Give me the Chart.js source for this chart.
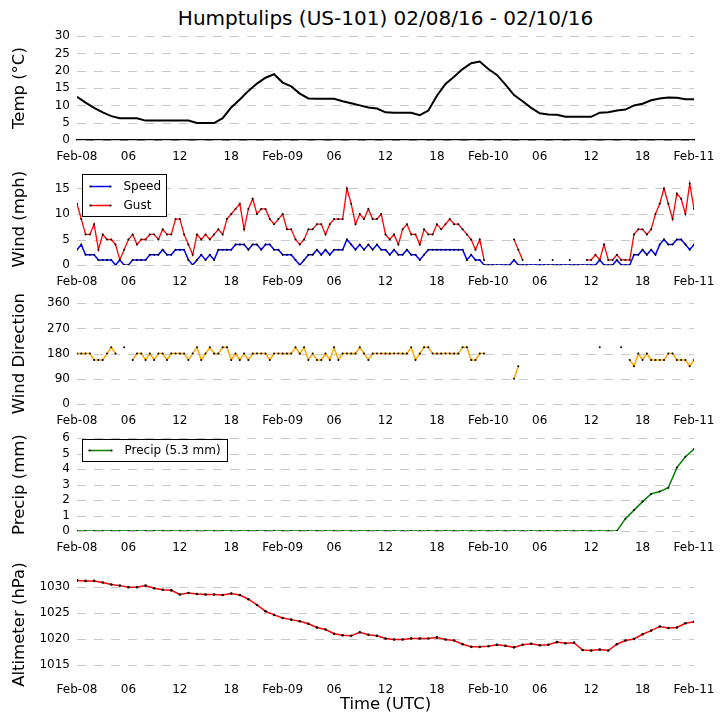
<!DOCTYPE html>
<html><head><meta charset="utf-8">
<script src="https://cdn.jsdelivr.net/npm/chart.js@4.4.1/dist/chart.umd.min.js"></script>
<style>
html,body{margin:0;padding:0;background:#fff;}
#wrap{position:relative;width:726px;height:725px;overflow:hidden;font-family:"DejaVu Sans",sans-serif;background:#fff;}
#title{position:absolute;left:77px;width:617px;top:5px;text-align:center;font-size:20px;line-height:26px;color:#000;white-space:nowrap;}
canvas{position:absolute;left:0;}
</style></head><body>
<div id="wrap">
<div id="title">Humptulips (US-101) 02/08/16 - 02/10/16</div>
<canvas id="cTemp"></canvas>
<canvas id="cWind"></canvas>
<canvas id="cDir"></canvas>
<canvas id="cPrecip"></canvas>
<canvas id="cAlt"></canvas>
</div>
<script>
// x tick labels, every 6 hours from Feb-08 00 UTC
const X_TICK_LABELS = ['Feb-08','06','12','18','Feb-09','06','12','18','Feb-10','06','12','18','Feb-11'];

// hourly temperature (deg C), Feb-08 00 UTC .. Feb-11 00 UTC
const TEMP = [12.5,10.8,9.3,8.0,6.9,6.3,6.3,6.3,5.6,5.6,
  5.6,5.6,5.6,5.6,4.9,4.9,4.9,6.3,9.4,11.7,
  14.2,16.3,18.0,19.0,16.6,15.5,13.4,12.0,11.9,11.9,
  11.9,11.2,10.6,10.0,9.4,9.1,8.0,7.9,7.9,7.9,
  7.2,8.5,12.8,16.2,18.3,20.5,22.2,22.7,20.5,18.8,
  16.0,13.0,11.2,9.3,7.7,7.4,7.3,6.7,6.7,6.7,
  6.7,7.9,8.0,8.5,8.8,10.0,10.5,11.5,12.0,12.3,
  12.2,11.8,11.8];

// half-hourly wind speed (mph)
const WIND_SPEED = [3,4,2,2,2,1,1,1,1,0,
  1,0,0,1,1,1,1,2,2,2,
  3,2,2,3,3,3,1,0,1,2,
  1,2,1,3,3,3,3,4,4,4,
  3,4,4,3,4,4,3,3,2,2,
  2,1,0,1,2,2,3,2,3,2,
  3,3,3,5,4,3,4,3,4,3,
  4,3,3,2,3,2,2,3,2,2,
  1,2,3,3,3,3,3,3,3,3,
  3,1,2,1,1,0,0,0,0,0,
  0,0,1,0,0,0,0,0,0,0,
  0,0,0,0,0,0,0,0,0,0,
  0,0,1,0,0,0,1,0,0,0,
  2,2,3,2,3,2,4,5,4,4,
  5,5,4,3,4];

// half-hourly wind gust (mph), null = missing
const WIND_GUST = [12,9,6,6,8,3,6,5,5,4,
  1,3,5,6,4,5,5,6,6,5,
  7,6,6,9,9,6,4,2,6,5,
  6,5,6,7,6,9,10,11,12,7,
  11,13,10,11,11,9,8,9,10,7,
  7,5,4,5,7,7,8,8,6,8,
  9,9,9,15,12,8,10,9,11,9,
  9,10,6,5,6,4,7,8,6,6,
  4,7,6,6,8,7,8,9,8,8,
  7,6,5,3,5,1,null,null,null,null,
  null,null,5,3,1,null,null,null,1,null,
  null,1,null,null,null,1,null,null,null,1,
  1,2,1,4,1,1,2,1,1,1,
  6,7,7,6,7,10,12,15,12,9,
  14,13,10,16,11];

// half-hourly wind direction (deg), null = missing
const WIND_DIR = [180,180,180,180,157.5,157.5,157.5,180,202.5,180,
  null,202.5,null,157.5,180,180,157.5,180,157.5,180,
  180,157.5,180,180,180,180,157.5,180,202.5,157.5,
  180,202.5,180,180,202.5,202.5,157.5,180,157.5,180,
  157.5,180,180,180,180,157.5,180,180,180,180,
  180,202.5,180,202.5,157.5,180,157.5,157.5,180,157.5,
  202.5,157.5,180,180,180,180,202.5,180,157.5,180,
  180,180,180,180,180,180,180,180,202.5,157.5,
  180,202.5,202.5,180,180,180,180,180,180,180,
  202.5,202.5,157.5,157.5,180,180,null,null,null,null,
  null,null,90,135,null,null,null,null,null,null,
  null,null,null,null,null,null,null,null,null,null,
  null,null,202.5,null,null,null,null,202.5,null,157.5,
  135,180,157.5,180,157.5,157.5,157.5,157.5,180,180,
  157.5,157.5,157.5,135,157.5];

// hourly accumulated precipitation (mm)
const PRECIP = [0,0,0,0,0,0,0,0,0,0,
  0,0,0,0,0,0,0,0,0,0,
  0,0,0,0,0,0,0,0,0,0,
  0,0,0,0,0,0,0,0,0,0,
  0,0,0,0,0,0,0,0,0,0,
  0,0,0,0,0,0,0,0,0,0,
  0,0,0,0,0.8,1.35,1.9,2.4,2.55,2.8,
  4.1,4.8,5.3];

// hourly altimeter (hPa)
const ALTIM = [1031.2,1031.1,1031.1,1030.8,1030.4,1030.2,1029.9,1029.9,1030.2,1029.7,
  1029.4,1029.3,1028.5,1028.8,1028.6,1028.5,1028.5,1028.4,1028.7,1028.4,
  1027.6,1026.5,1025.3,1024.6,1024.0,1023.7,1023.4,1022.9,1022.2,1021.8,
  1021.0,1020.7,1020.6,1021.3,1020.8,1020.6,1020.1,1019.9,1019.9,1020.1,
  1020.1,1020.1,1020.3,1019.9,1019.7,1019.0,1018.5,1018.5,1018.6,1018.9,
  1018.7,1018.4,1018.9,1019.1,1018.8,1018.9,1019.4,1019.2,1019.3,1017.9,
  1017.8,1018.0,1017.8,1019.0,1019.7,1020.0,1020.9,1021.6,1022.4,1022.1,
  1022.2,1023.0,1023.3];

Chart.defaults.font.family = "'DejaVu Sans', sans-serif";
Chart.defaults.font.size = 12;
Chart.defaults.color = '#000';

// dashed horizontal grid lines at the y scale ticks
const dashGrid = {
  id: 'dashGrid',
  beforeDatasetsDraw(chart) {
    const ctx = chart.ctx, ca = chart.chartArea, ys = chart.scales.y;
    ctx.save();
    ctx.strokeStyle = '#c8c8c8'; ctx.lineWidth = 1;
    ctx.setLineDash([9, 8]);
    ys.ticks.forEach(t => {
      const py = Math.round(ys.getPixelForValue(t.value)) + 0.5;
      ctx.beginPath(); ctx.moveTo(ca.left, py); ctx.lineTo(ca.right, py); ctx.stroke();
    });
    ctx.restore();
  }
};

const boxLegend = {
  id: 'boxLegend',
  afterDraw(chart, args, opts) {
    if (!opts || !opts.items || !opts.items.length) return;
    const ctx = chart.ctx, ca = chart.chartArea;
    const x0 = Math.round(ca.left + opts.dx) + 0.5, y0 = Math.round(ca.top + opts.dy) + 0.5;
    ctx.save();
    ctx.fillStyle = '#fff';
    ctx.fillRect(x0, y0, opts.w, opts.h);
    ctx.strokeStyle = '#000'; ctx.lineWidth = 1;
    ctx.strokeRect(x0, y0, opts.w, opts.h);
    ctx.font = "12px 'DejaVu Sans'";
    ctx.textBaseline = 'middle'; ctx.textAlign = 'left';
    opts.items.forEach((it, i) => {
      const cy = y0 + opts.row0 + i * opts.rowH;
      ctx.strokeStyle = it.color; ctx.lineWidth = 1.5;
      ctx.beginPath(); ctx.moveTo(x0 + opts.l0, cy); ctx.lineTo(x0 + opts.l1, cy); ctx.stroke();
      ctx.fillStyle = '#000';
      [opts.l0, opts.l1].forEach(px => { ctx.beginPath(); ctx.arc(x0 + px, cy, 1.1, 0, Math.PI * 2); ctx.fill(); });
      ctx.fillText(it.label, x0 + opts.tx, cy + 0.5);
    });
    ctx.restore();
  }
};

function pts(arr, step) { return arr.map((v, i) => ({ x: i * step, y: v })); }

function lineDs(label, arr, step, color, width, dotR, order) {
  return {
    label, data: pts(arr, step), borderColor: color, borderWidth: width,
    pointRadius: dotR, pointBackgroundColor: '#000', pointBorderWidth: 0,
    pointHoverRadius: 0, tension: 0, spanGaps: false, fill: false, order: order || 0
  };
}

function makePanel(id, cfg) {
  const padTop = 10;
  const xH = cfg.xH || 30;
  const h = padTop + (cfg.plotBottom - cfg.plotTop) + xH;
  const cv = document.getElementById(id);
  cv.width = 726; cv.height = h;
  cv.style.width = '726px'; cv.style.height = h + 'px';
  cv.style.top = (cfg.plotTop - padTop) + 'px';
  return new Chart(cv, {
    type: 'line',
    data: { datasets: cfg.datasets },
    options: {
      responsive: false, animation: false, events: [],
      layout: { padding: { top: padTop, left: 0, right: 32, bottom: 0 }, autoPadding: false },
      plugins: { legend: { display: false }, tooltip: { enabled: false }, boxLegend: cfg.legend || { items: [] } },
      scales: {
        x: {
          type: 'linear', min: 0, max: 72,
          afterFit(s) { s.height = xH; },
          afterBuildTicks(s) { s.ticks = X_TICK_LABELS.map((_, i) => ({ value: i * 6 })); },
          ticks: { autoSkip: false, maxRotation: 0, padding: 10,
                   callback: (v) => X_TICK_LABELS[Math.round(v / 6)] },
          grid: { display: false, drawTicks: false },
          border: { display: !!cfg.xBorder, color: '#000', width: 1.5 },
          title: cfg.xTitle ? { display: true, text: cfg.xTitle, font: { size: 16.5 }, padding: { top: 0, bottom: 10 } } : { display: false }
        },
        y: {
          min: cfg.yMin, max: cfg.yMax,
          afterFit(s) { s.width = 77; },
          ticks: { stepSize: cfg.yStep, padding: 7, includeBounds: false, autoSkip: false,
                   callback: (v) => String(v) },
          grid: { display: false, drawTicks: false },
          border: { display: false },
          title: { display: true, text: cfg.yTitle, font: { size: 16.5 }, padding: { top: 10, bottom: 0 } }
        }
      }
    },
    plugins: [dashGrid, boxLegend]
  });
}

makePanel('cTemp', {
  plotTop: 32, plotBottom: 140, yMin: 0, yMax: 30, yStep: 5, yTitle: 'Temp (°C)', xBorder: true,
  datasets: [lineDs('Temp', TEMP, 1, '#000', 2, 0)]
});

makePanel('cWind', {
  plotTop: 169, plotBottom: 265, yMin: 0, yMax: 18, yStep: 5, yTitle: 'Wind (mph)',
  datasets: [lineDs('Speed', WIND_SPEED, 0.5, '#0000ff', 1.5, 1.0, 1),
             lineDs('Gust', WIND_GUST, 0.5, '#ff0000', 1.3, 1.0, 0)],
  legend: { dx: 5, dy: 1, w: 84, h: 42, row0: 12, rowH: 19, l0: 8, l1: 28, tx: 41,
            items: [{ label: 'Speed', color: '#0000ff' }, { label: 'Gust', color: '#ff0000' }] }
});

makePanel('cDir', {
  plotTop: 299, plotBottom: 404, yMin: 0, yMax: 360, yStep: 90, yTitle: 'Wind Direction',
  datasets: [lineDs('Dir', WIND_DIR, 0.5, '#ffa500', 1.5, 1.0)]
});

makePanel('cPrecip', {
  plotTop: 434, plotBottom: 531, yMin: 0, yMax: 6, yStep: 1, yTitle: 'Precip (mm)',
  datasets: [lineDs('Precip (5.3 mm)', PRECIP, 1, '#008000', 1.5, 1.0)],
  legend: { dx: 5, dy: 1, w: 145, h: 22, row0: 11, rowH: 18, l0: 7, l1: 29, tx: 42,
            items: [{ label: 'Precip (5.3 mm)', color: '#008000' }] }
});

makePanel('cAlt', {
  plotTop: 572, plotBottom: 673, yMin: 1013.5, yMax: 1032, yStep: 5, yTitle: 'Altimeter (hPa)',
  xH: 52, xTitle: 'Time (UTC)',
  datasets: [lineDs('Altimeter', ALTIM, 1, '#ff0000', 1.5, 1.3)]
});
</script>
</body></html>
